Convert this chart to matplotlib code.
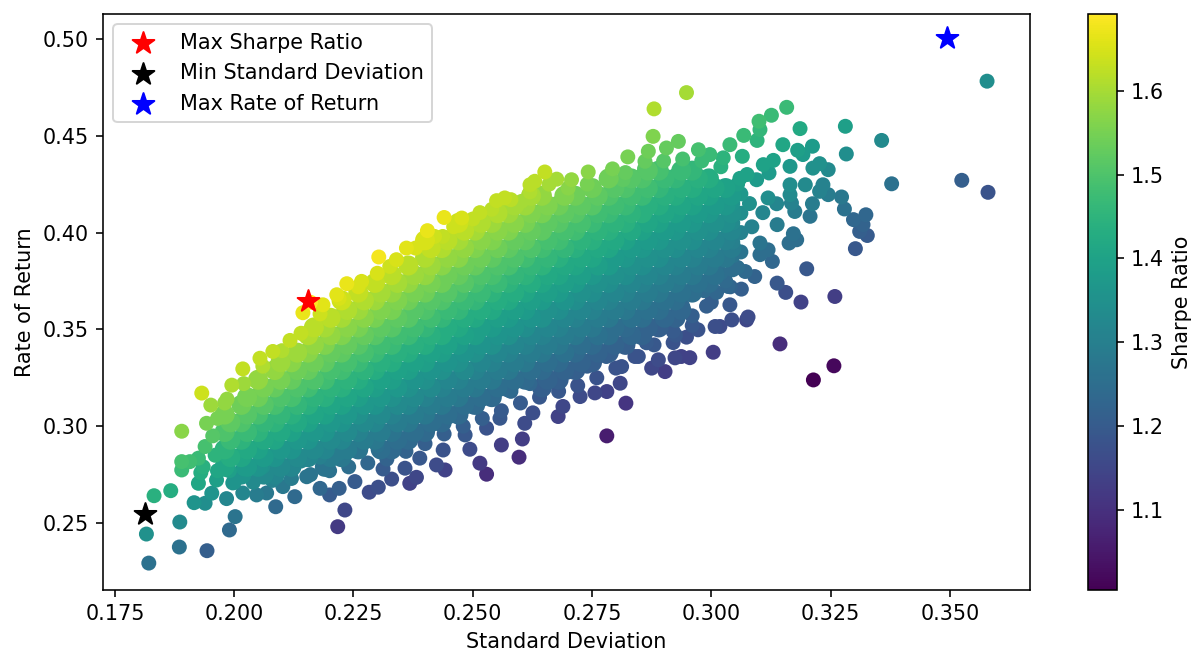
# Efficient frontier scatter
import matplotlib
matplotlib.use('Agg')
from matplotlib import pyplot as plt
import numpy as np

plt.rcParams['font.size'] = 10.4

# Dense part of the cloud, one list of returns per standard deviation column
CORE_STD = [0.198, 0.2015, 0.205, 0.2085, 0.212, 0.2155, 0.219, 0.2225, 0.226, 0.2295, 0.233,
            0.2365, 0.240, 0.2435, 0.247, 0.2505, 0.254, 0.2575, 0.261, 0.2645, 0.268,
            0.2715, 0.275, 0.2785, 0.282, 0.2855, 0.289, 0.2925, 0.296, 0.2995, 0.303,
            0.1992, 0.2027, 0.2062, 0.2097, 0.2132, 0.2167, 0.2202, 0.2237, 0.2272, 0.2307, 0.2342,
            0.2377, 0.2412, 0.2447, 0.2482, 0.2517, 0.2552, 0.2587, 0.2622, 0.2657, 0.2692,
            0.2727, 0.2762, 0.2797, 0.2832, 0.2867, 0.2902, 0.2937, 0.2972, 0.3007, 0.3042]
CORE_RETURN = [
    [.279, .288, .297, .306],
    [.275, .284, .293, .302, .311],
    [.279, .288, .297, .306, .315, .324],
    [.275, .284, .293, .302, .311, .320, .329],
    [.279, .288, .297, .306, .315, .324, .333],
    [.284, .293, .302, .311, .320, .329, .338, .347],
    [.279, .288, .297, .306, .315, .324, .333, .342, .351],
    [.284, .293, .302, .311, .320, .329, .338, .347, .356, .365],
    [.288, .297, .306, .315, .324, .333, .342, .351, .360, .369],
    [.293, .302, .311, .320, .329, .338, .347, .356, .365, .374],
    [.288, .297, .306, .315, .324, .333, .342, .351, .360, .369, .378],
    [.293, .302, .311, .320, .329, .338, .347, .356, .365, .374, .383],
    [.297, .306, .315, .324, .333, .342, .351, .360, .369, .378, .387, .396],
    [.302, .311, .320, .329, .338, .347, .356, .365, .374, .383, .392],
    [.306, .315, .324, .333, .342, .351, .360, .369, .378, .387, .396, .405],
    [.311, .320, .329, .338, .347, .356, .365, .374, .383, .392, .401],
    [.315, .324, .333, .342, .351, .360, .369, .378, .387, .396, .405],
    [.320, .329, .338, .347, .356, .365, .374, .383, .392, .401, .410],
    [.324, .333, .342, .351, .360, .369, .378, .387, .396, .405, .414],
    [.320, .329, .338, .347, .356, .365, .374, .383, .392, .401, .410, .419],
    [.324, .333, .342, .351, .360, .369, .378, .387, .396, .405, .414],
    [.329, .338, .347, .356, .365, .374, .383, .392, .401, .410, .419],
    [.333, .342, .351, .360, .369, .378, .387, .396, .405, .414, .423],
    [.338, .347, .356, .365, .374, .383, .392, .401, .410, .419, .428],
    [.342, .351, .360, .369, .378, .387, .396, .405, .414, .423],
    [.347, .356, .365, .374, .383, .392, .401, .410, .419, .428],
    [.351, .360, .369, .378, .387, .396, .405, .414, .423, .432],
    [.356, .365, .374, .383, .392, .401, .410, .419, .428],
    [.369, .378, .387, .396, .405, .414, .423, .432],
    [.374, .383, .392, .401, .410, .419, .428],
    [.387, .396, .405, .414, .423],
    [.284, .293, .302],
    [.279, .288, .297, .306, .315],
    [.275, .284, .293, .302, .311, .320],
    [.279, .288, .297, .306, .315, .324, .333],
    [.284, .293, .302, .311, .320, .329, .338],
    [.288, .297, .306, .315, .324, .333, .342, .351],
    [.284, .293, .302, .311, .320, .329, .338, .347, .356],
    [.288, .297, .306, .315, .324, .333, .342, .351, .360],
    [.293, .302, .311, .320, .329, .338, .347, .356, .365],
    [.288, .297, .306, .315, .324, .333, .342, .351, .360, .369],
    [.293, .302, .311, .320, .329, .338, .347, .356, .365, .374],
    [.297, .306, .315, .324, .333, .342, .351, .360, .369, .378],
    [.302, .311, .320, .329, .338, .347, .356, .365, .374, .383, .392],
    [.306, .315, .324, .333, .342, .351, .360, .369, .378, .387, .396],
    [.311, .320, .329, .338, .347, .356, .365, .374, .383, .392, .401],
    [.315, .324, .333, .342, .351, .360, .369, .378, .387, .396, .405],
    [.320, .329, .338, .347, .356, .365, .374, .383, .392, .401, .410],
    [.324, .333, .342, .351, .360, .369, .378, .387, .396, .405, .414],
    [.329, .338, .347, .356, .365, .374, .383, .392, .401, .410, .419],
    [.324, .333, .342, .351, .360, .369, .378, .387, .396, .405, .414],
    [.329, .338, .347, .356, .365, .374, .383, .392, .401, .410, .419],
    [.333, .342, .351, .360, .369, .378, .387, .396, .405, .414],
    [.338, .347, .356, .365, .374, .383, .392, .401, .410, .419],
    [.342, .351, .360, .369, .378, .387, .396, .405, .414, .423],
    [.347, .356, .365, .374, .383, .392, .401, .410, .419, .428],
    [.351, .360, .369, .378, .387, .396, .405, .414, .423, .432],
    [.356, .365, .374, .383, .392, .401, .410, .419, .428],
    [.360, .369, .378, .387, .396, .405, .414, .423, .432],
    [.374, .383, .392, .401, .410, .419, .428],
    [.378, .387, .396, .405, .414, .423],
    [.392, .401, .410, .419],
]
CORE_SHARPE = [
    [1.41, 1.45, 1.50, 1.55],
    [1.36, 1.41, 1.45, 1.50, 1.54],
    [1.36, 1.40, 1.45, 1.49, 1.54, 1.58],
    [1.32, 1.36, 1.41, 1.45, 1.49, 1.53, 1.58],
    [1.32, 1.36, 1.40, 1.44, 1.49, 1.53, 1.57],
    [1.32, 1.36, 1.40, 1.44, 1.48, 1.53, 1.57, 1.61],
    [1.27, 1.32, 1.36, 1.40, 1.44, 1.48, 1.52, 1.56, 1.60],
    [1.28, 1.32, 1.36, 1.40, 1.44, 1.48, 1.52, 1.56, 1.60, 1.64],
    [1.27, 1.31, 1.35, 1.39, 1.43, 1.47, 1.51, 1.55, 1.59, 1.63],
    [1.28, 1.32, 1.36, 1.39, 1.43, 1.47, 1.51, 1.55, 1.59, 1.63],
    [1.24, 1.27, 1.31, 1.35, 1.39, 1.43, 1.47, 1.51, 1.55, 1.58, 1.62],
    [1.24, 1.28, 1.32, 1.35, 1.39, 1.43, 1.47, 1.51, 1.54, 1.58, 1.62],
    [1.24, 1.28, 1.31, 1.35, 1.39, 1.43, 1.46, 1.50, 1.54, 1.58, 1.61, 1.65],
    [1.24, 1.28, 1.31, 1.35, 1.39, 1.43, 1.46, 1.50, 1.54, 1.57, 1.61],
    [1.24, 1.28, 1.31, 1.35, 1.38, 1.42, 1.46, 1.49, 1.53, 1.57, 1.60, 1.64],
    [1.24, 1.28, 1.31, 1.35, 1.39, 1.42, 1.46, 1.49, 1.53, 1.56, 1.60],
    [1.24, 1.28, 1.31, 1.35, 1.38, 1.42, 1.45, 1.49, 1.52, 1.56, 1.59],
    [1.24, 1.28, 1.31, 1.35, 1.38, 1.42, 1.45, 1.49, 1.52, 1.56, 1.59],
    [1.24, 1.28, 1.31, 1.34, 1.38, 1.41, 1.45, 1.48, 1.52, 1.55, 1.59],
    [1.21, 1.24, 1.28, 1.31, 1.35, 1.38, 1.41, 1.45, 1.48, 1.52, 1.55, 1.58],
    [1.21, 1.24, 1.28, 1.31, 1.34, 1.38, 1.41, 1.44, 1.48, 1.51, 1.54],
    [1.21, 1.24, 1.28, 1.31, 1.34, 1.38, 1.41, 1.44, 1.48, 1.51, 1.54],
    [1.21, 1.24, 1.28, 1.31, 1.34, 1.37, 1.41, 1.44, 1.47, 1.51, 1.54],
    [1.21, 1.25, 1.28, 1.31, 1.34, 1.38, 1.41, 1.44, 1.47, 1.50, 1.54],
    [1.21, 1.24, 1.28, 1.31, 1.34, 1.37, 1.40, 1.44, 1.47, 1.50],
    [1.22, 1.25, 1.28, 1.31, 1.34, 1.37, 1.40, 1.44, 1.47, 1.50],
    [1.21, 1.25, 1.28, 1.31, 1.34, 1.37, 1.40, 1.43, 1.46, 1.49],
    [1.22, 1.25, 1.28, 1.31, 1.34, 1.37, 1.40, 1.43, 1.46],
    [1.25, 1.28, 1.31, 1.34, 1.37, 1.40, 1.43, 1.46],
    [1.25, 1.28, 1.31, 1.34, 1.37, 1.40, 1.43],
    [1.28, 1.31, 1.34, 1.37, 1.40],
    [1.43, 1.47, 1.52],
    [1.38, 1.42, 1.47, 1.51, 1.55],
    [1.33, 1.38, 1.42, 1.46, 1.51, 1.55],
    [1.33, 1.37, 1.42, 1.46, 1.50, 1.55, 1.59],
    [1.33, 1.37, 1.42, 1.46, 1.50, 1.54, 1.59],
    [1.33, 1.37, 1.41, 1.45, 1.50, 1.54, 1.58, 1.62],
    [1.29, 1.33, 1.37, 1.41, 1.45, 1.49, 1.53, 1.58, 1.62],
    [1.29, 1.33, 1.37, 1.41, 1.45, 1.49, 1.53, 1.57, 1.61],
    [1.29, 1.33, 1.37, 1.41, 1.45, 1.49, 1.53, 1.57, 1.61],
    [1.25, 1.29, 1.33, 1.37, 1.40, 1.44, 1.48, 1.52, 1.56, 1.60],
    [1.25, 1.29, 1.33, 1.37, 1.40, 1.44, 1.48, 1.52, 1.56, 1.60],
    [1.25, 1.29, 1.33, 1.36, 1.40, 1.44, 1.48, 1.51, 1.55, 1.59],
    [1.25, 1.29, 1.33, 1.36, 1.40, 1.44, 1.48, 1.51, 1.55, 1.59, 1.63],
    [1.25, 1.29, 1.32, 1.36, 1.40, 1.43, 1.47, 1.51, 1.54, 1.58, 1.62],
    [1.25, 1.29, 1.33, 1.36, 1.40, 1.43, 1.47, 1.51, 1.54, 1.58, 1.62],
    [1.25, 1.29, 1.32, 1.36, 1.39, 1.43, 1.47, 1.50, 1.54, 1.57, 1.61],
    [1.25, 1.29, 1.32, 1.36, 1.39, 1.43, 1.47, 1.50, 1.54, 1.57, 1.61],
    [1.25, 1.29, 1.32, 1.36, 1.39, 1.43, 1.46, 1.50, 1.53, 1.57, 1.60],
    [1.25, 1.29, 1.32, 1.36, 1.39, 1.43, 1.46, 1.50, 1.53, 1.56, 1.60],
    [1.22, 1.25, 1.29, 1.32, 1.35, 1.39, 1.42, 1.46, 1.49, 1.52, 1.56],
    [1.22, 1.26, 1.29, 1.32, 1.36, 1.39, 1.42, 1.46, 1.49, 1.52, 1.56],
    [1.22, 1.25, 1.29, 1.32, 1.35, 1.39, 1.42, 1.45, 1.49, 1.52],
    [1.22, 1.26, 1.29, 1.32, 1.35, 1.39, 1.42, 1.45, 1.48, 1.52],
    [1.22, 1.25, 1.29, 1.32, 1.35, 1.38, 1.42, 1.45, 1.48, 1.51],
    [1.23, 1.26, 1.29, 1.32, 1.35, 1.38, 1.42, 1.45, 1.48, 1.51],
    [1.22, 1.26, 1.29, 1.32, 1.35, 1.38, 1.41, 1.44, 1.48, 1.51],
    [1.23, 1.26, 1.29, 1.32, 1.35, 1.38, 1.41, 1.44, 1.47],
    [1.23, 1.26, 1.29, 1.32, 1.35, 1.38, 1.41, 1.44, 1.47],
    [1.26, 1.29, 1.32, 1.35, 1.38, 1.41, 1.44],
    [1.26, 1.29, 1.32, 1.35, 1.38, 1.41],
    [1.29, 1.32, 1.35, 1.38],
]

# Single portfolios on the fringe of the cloud
EDGE_STD = [
    .1821, .1816, .1886, .1885, .1943, .1990, .2002, .1832, .1867, .1890, .1932, .1916, .1939, .1953,
    .1984, .2087, .2127, .2232, .2217, .2200, .2220, .2180, .2253, .2283, .2302, .2330, .2368, .2312,
    .1890, .1890, .1907, .1925, .1939, .1942, .1951, .1995, .2018, .2054, .2081, .2117, .2144, .2018,
    .2047, .2068, .1997, .1963, .2102, .2152,
    .2160, .2186, .2215, .2236, .2267, .2303, .2326, .2361, .2396, .2405, .2440, .2437, .2477, .2515,
    .2550, .2567, .2602, .2620, .2630, .2651, .2676, .2707, .2742, .2793, .2815, .2825, .2880, .2948,
    .2878, .2868, .2861, .2906, .2931, .2973, .2997, .3025, .3039, .3065, .3068, .3096, .3102, .3100,
    .3126, .3158, .3186, .3150, .3181, .3192, .3212, .3281, .3283, .3357, .3378, .3109, .3130, .3121,
    .3165, .3165, .3165, .3197, .3213, .3227, .3245, .3234, .3245, .3227, .3273, .3279, .3298, .3324,
    .3318, .3311, .3327, .3302, .3212, .3207, .3175, .3168, .3137, .3119, .3138, .3172, .3163, .3179,
    .3200, .3128, .3119, .3102, .3091, .3071, .3045, .3138, .3156, .3188, .3259, .3063, .3035, .3011,
    .3102, .3108, .3095,
    .3144, .3214, .3257, .3074, .3077, .3018, .3043, .3004, .2955, .2937, .2948, .2972, .3039, .2382,
    .2424, .2442, .2494, .2515, .2529, .2560, .2597, .2604, .2529, .2484, .2389, .2358, .2438, .2557,
    .2609, .2626, .2679, .2689, .2781, .2821, .2781, .2809, .2756, .2725, .2875, .2903, .2889, .2920,
    .2924, .2847, .2812, .2864, .3008,
    .3062, .3062, .3062, .3062, .3080, .3085, .3075, .3055, .3030, .2990, .2960, .2925,
    .3525, .3580, .3578,
    .200, .204, .208, .212, .216, .220, .224, .228, .232, .236, .240, .244, .248, .252, .256, .260,
    .264, .268, .272, .276, .280, .284, .288, .292, .296, .300, .304,
    .202, .206, .210, .214, .218, .222, .226, .230, .234, .238, .242, .246, .250, .254, .258, .262,
    .266, .270, .274, .278, .282, .286, .290, .294, .298, .302,
    .198, .202, .206, .210, .214, .218, .222, .226, .230, .234, .238, .242, .246, .250, .254, .258,
    .262, .266, .270, .274, .278, .282, .286, .290, .294, .298, .302, .306,
    .1955, .1965, .1960, .1935, .1965, .1930, .1990, .1925, .1985,
    .3045, .3045, .3045, .3045, .3055, .3010, .2985,
]
EDGE_RETURN = [
    .2293, .2443, .2505, .2376, .2357, .2464, .2533, .2641, .2667, .2974, .3171, .2605, .2602, .2654,
    .2626, .2584, .2636, .2567, .2481, .2645, .2679, .2679, .2714, .2659, .2685, .2727, .2705, .2779,
    .2817, .2774, .2817, .2705, .2895, .3015, .3109, .3212, .3296, .3351, .3386, .3443, .3586, .2655,
    .2645, .2655, .2707, .2722, .2688, .2739,
    .3640, .3627, .3679, .3736, .3748, .3874, .3825, .3920, .3948, .4010, .4078, .3980, .4075, .4103,
    .4165, .4179, .4161, .4247, .4265, .4313, .4276, .4273, .4313, .4329, .4273, .4391, .4639, .4723,
    .4497, .4420, .4368, .4437, .4471, .4428, .4403, .4386, .4454, .4394, .4502, .4476, .4532, .4575,
    .4606, .4647, .4537, .4454, .4425, .4403, .4446, .4549, .4406, .4476, .4252, .4351, .4373, .4308,
    .4342, .4247, .4196, .4247, .4333, .4356, .4325, .4247, .4196, .4213, .4184, .4122, .4067, .4092,
    .4041, .4006, .3985, .3917, .4149, .4084, .4109, .4153, .4149, .4179, .4041, .3994, .3946, .3963,
    .3813, .3851, .3911, .3886, .3773, .3799, .3808, .3739, .3691, .3641, .3670, .3708, .3722, .3691,
    .3946, .4103, .4273,
    .3425, .3239, .3312, .3549, .3564, .3515, .3549, .3382, .3354, .3360, .3460, .3498, .3627, .2736,
    .2800, .2774, .2881, .2809, .2752, .2903, .2840, .2934, .2990, .2955, .2835, .2783, .2877, .3041,
    .3015, .3069, .3050, .3102, .2950, .3119, .3179, .3222, .3172, .3153, .3300, .3282, .3343, .3432,
    .3353, .3360, .3308, .3431, .3515,
    .4200, .4100, .4000, .3900, .4150, .4030, .4300, .3820, .3750, .3620, .3520, .3470,
    .4270, .4208, .4782,
    .271, .271, .272, .273, .275, .277, .279, .281, .283, .287, .291, .296, .300, .304, .308, .312,
    .315, .318, .321, .325, .330, .336, .342, .349, .357, .364, .372,
    .278, .279, .280, .282, .284, .286, .288, .290, .293, .297, .302, .306, .310, .314, .318, .322,
    .325, .328, .331, .336, .342, .348, .355, .362, .371, .379,
    .312, .322, .331, .339, .348, .358, .366, .372, .379, .386, .392, .398, .403, .407, .412, .417,
    .421, .425, .423, .425, .428, .431, .433, .437, .438, .437, .434, .428,
    .2950, .3040, .2850, .2790, .2770, .2760, .2770, .2835, .3140,
    .4150, .4050, .3950, .3880, .4250, .3800, .3700,
]
EDGE_SHARPE = [
    1.26, 1.35, 1.33, 1.26, 1.21, 1.24, 1.27, 1.44, 1.43, 1.57, 1.64, 1.36, 1.34, 1.36,
    1.32, 1.24, 1.24, 1.15, 1.12, 1.20, 1.21, 1.23, 1.20, 1.16, 1.17, 1.17, 1.14, 1.20,
    1.49, 1.47, 1.48, 1.41, 1.49, 1.55, 1.59, 1.61, 1.63, 1.63, 1.63, 1.63, 1.67, 1.32,
    1.29, 1.28, 1.36, 1.39, 1.28, 1.27,
    1.69, 1.66, 1.66, 1.67, 1.65, 1.68, 1.64, 1.66, 1.65, 1.67, 1.67, 1.63, 1.65, 1.63,
    1.63, 1.63, 1.60, 1.62, 1.62, 1.63, 1.60, 1.58, 1.57, 1.55, 1.52, 1.55, 1.61, 1.60,
    1.56, 1.54, 1.53, 1.53, 1.53, 1.49, 1.47, 1.45, 1.47, 1.43, 1.47, 1.45, 1.46, 1.48,
    1.47, 1.47, 1.42, 1.41, 1.39, 1.38, 1.38, 1.39, 1.34, 1.33, 1.26, 1.40, 1.40, 1.38,
    1.37, 1.34, 1.33, 1.33, 1.35, 1.35, 1.33, 1.31, 1.29, 1.31, 1.28, 1.26, 1.23, 1.23,
    1.22, 1.21, 1.20, 1.19, 1.29, 1.27, 1.29, 1.31, 1.32, 1.34, 1.29, 1.26, 1.25, 1.25,
    1.19, 1.23, 1.25, 1.25, 1.22, 1.24, 1.25, 1.19, 1.17, 1.14, 1.13, 1.21, 1.23, 1.23,
    1.27, 1.32, 1.38,
    1.09, 1.005, 1.02, 1.15, 1.16, 1.16, 1.17, 1.13, 1.14, 1.14, 1.17, 1.18, 1.19, 1.15,
    1.16, 1.14, 1.16, 1.12, 1.09, 1.13, 1.09, 1.13, 1.18, 1.19, 1.19, 1.18, 1.18, 1.19,
    1.16, 1.17, 1.14, 1.15, 1.06, 1.11, 1.14, 1.15, 1.15, 1.16, 1.15, 1.13, 1.16, 1.18,
    1.15, 1.18, 1.18, 1.20, 1.17,
    1.37, 1.34, 1.31, 1.27, 1.35, 1.31, 1.40, 1.25, 1.24, 1.21, 1.19, 1.19,
    1.21, 1.18, 1.34,
    1.36, 1.33, 1.31, 1.29, 1.27, 1.26, 1.25, 1.23, 1.22, 1.22, 1.21, 1.21, 1.21, 1.21, 1.20, 1.20,
    1.19, 1.19, 1.18, 1.18, 1.18, 1.18, 1.19, 1.20, 1.21, 1.21, 1.22,
    1.38, 1.35, 1.33, 1.32, 1.30, 1.29, 1.27, 1.26, 1.25, 1.25, 1.25, 1.24, 1.24, 1.24, 1.23, 1.23,
    1.22, 1.21, 1.21, 1.21, 1.21, 1.22, 1.22, 1.23, 1.24, 1.25,
    1.58, 1.59, 1.61, 1.61, 1.63, 1.64, 1.65, 1.65, 1.65, 1.65, 1.65, 1.64, 1.64, 1.63, 1.62, 1.62,
    1.61, 1.60, 1.57, 1.55, 1.54, 1.53, 1.51, 1.51, 1.49, 1.47, 1.44, 1.40,
    1.51, 1.55, 1.45, 1.44, 1.41, 1.43, 1.39, 1.47, 1.58,
    1.36, 1.33, 1.30, 1.27, 1.39, 1.26, 1.24,
]

# Starred portfolios
STAR_LABELS = ['Max Sharpe Ratio', 'Min Standard Deviation', 'Max Rate of Return']
STAR_STD = [0.2155, 0.1812, 0.3494]
STAR_RETURN = [0.3645, 0.2545, 0.5003]
STAR_COLORS = ['red', 'black', 'blue']

SHARPE_MIN = 1.004
SHARPE_MAX = 1.692

# Flatten the columns and paint low Sharpe first so the gradient stays smooth
core_x = [std for std, returns in zip(CORE_STD, CORE_RETURN) for _ in returns]
core_y = [ret for returns in CORE_RETURN for ret in returns]
core_c = [sharpe for sharpes in CORE_SHARPE for sharpe in sharpes]
x = np.array(core_x + EDGE_STD)
y = np.array(core_y + EDGE_RETURN)
c = np.array(core_c + EDGE_SHARPE)
sizes = np.array([100] * len(core_x) + [56] * len(EDGE_STD))
order = np.argsort(c)

# Plotting
fig = plt.figure(figsize=(1196 / 144, 651 / 144), dpi=144)
ax = fig.add_axes([103 / 1196, 1 - 590 / 651, 927 / 1196, 576 / 651])
cax = fig.add_axes([1088 / 1196, 1 - 590 / 651, 29 / 1196, 576 / 651])

points = ax.scatter(x[order], y[order], c=c[order], s=sizes[order], linewidths=0,
                    cmap='viridis', vmin=SHARPE_MIN, vmax=SHARPE_MAX)
for std, ret, color, label in zip(STAR_STD, STAR_RETURN, STAR_COLORS, STAR_LABELS):
    ax.scatter(std, ret, marker='*', color=color, s=130, label=label, zorder=5)

# Plot Formatting
ax.set_xlim(0.1725, 0.3668)
ax.set_ylim(0.2154, 0.5129)
ax.set_xlabel('Standard Deviation')
ax.set_ylabel('Rate of Return')
ax.legend(loc='upper left')
bar = fig.colorbar(points, cax=cax)
bar.set_label('Sharpe Ratio')

fig.savefig('out.png', dpi=144)
